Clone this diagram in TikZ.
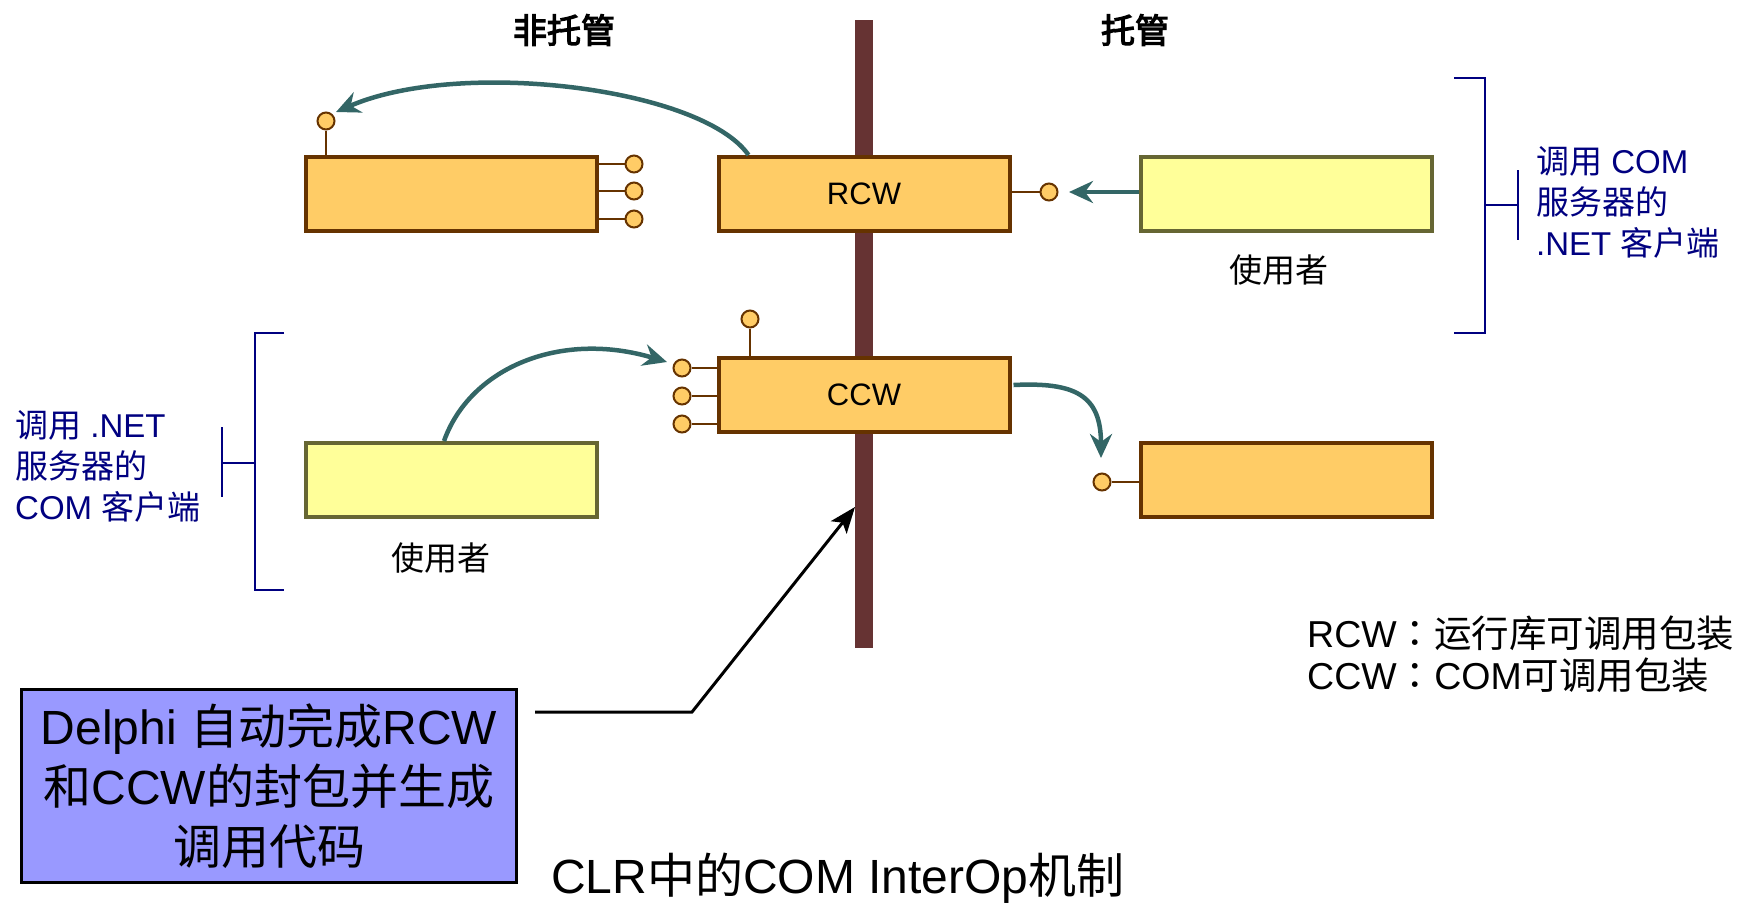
\documentclass[tikz,border=0pt]{standalone}
\usepackage{fontspec}
\setmainfont{Liberation Sans}
\newfontfamily\zh{Noto Sans CJK SC}
\newfontfamily\zhtc{Noto Sans CJK TC}
\newfontfamily\zhb[FakeBold=3.5]{Noto Sans CJK SC}
\usetikzlibrary{arrows.meta,shapes.geometric,calc}
\newcommand{\Z}[1]{{\zh #1}}
\newcommand{\colonc}{{\zhtc ：}}
\definecolor{orangec}{HTML}{FFCC66}
\definecolor{brownc}{HTML}{663300}
\definecolor{yellowc}{HTML}{FFFF99}
\definecolor{olivec}{HTML}{666633}
\definecolor{barc}{HTML}{663333}
\definecolor{tealc}{HTML}{336666}
\definecolor{navyc}{HTML}{000080}
\definecolor{bluec}{HTML}{9999FF}
\tikzset{
  orangebox/.style={draw=brownc, fill=orangec, line width=4pt, minimum width=291pt, minimum height=74pt, inner sep=0pt, font=\fontsize{31}{34}\selectfont},
  yellowbox/.style={draw=olivec, fill=yellowc, line width=4pt, minimum width=291pt, minimum height=74pt, inner sep=0pt},
  pin/.style={circle, draw=brownc, fill=orangec, line width=2pt, minimum size=17pt, inner sep=0pt},
  stem/.style={draw=brownc, line width=2pt},
  tealarrow/.style={draw=tealc, line width=4.5pt, -{Stealth[length=24pt,width=22pt,inset=8pt]}},
  bracketline/.style={draw=navyc, line width=2.5pt},
  smalllabel/.style={font=\fontsize{33}{41}\selectfont, inner sep=0pt},
  navylabel/.style={font=\fontsize{33}{41}\selectfont, text=navyc, align=left, inner sep=0pt, anchor=west},
  headlabel/.style={font=\fontsize{34}{36}\zhb, inner sep=0pt},
  bluebox/.style={draw=black, fill=bluec, line width=3pt, minimum width=495pt, minimum height=193pt, align=center, inner sep=0pt, font=\fontsize{48}{60}\selectfont},
  blackarrow/.style={draw=black, line width=3pt, -{Stealth[length=26pt,width=20pt,inset=6pt]}},
  biglabel/.style={font=\fontsize{48}{55}\selectfont, inner sep=0pt, anchor=west},
  legendlabel/.style={font=\fontsize{37.5}{42}\selectfont, align=left, inner sep=0pt, anchor=west}
}
\begin{document}
\begin{tikzpicture}[x=1pt,y=-1pt]
\useasboundingbox (0,0) rectangle (1740,903);
% central bar
\node[fill=barc, minimum width=18pt, minimum height=628pt, inner sep=0pt] (bar) at (864,334) {};
% headings
\node[headlabel] (unman) at (564,30) {非托管};
\node[headlabel] (man) at (1135,30) {托管};
% boxes
\node[orangebox] (A) at (451.5,194) {};
\node[orangebox] (rcw) at (864,194) {RCW};
\node[yellowbox] (B) at (1286.5,194) {};
\node[orangebox] (ccw) at (864,395) {CCW};
\node[yellowbox] (C) at (451.5,480) {};
\node[orangebox] (D) at (1286.5,480) {};
% user labels
\node[smalllabel] (userB) at (1279,270) {\Z{使用者}};
\node[smalllabel] (userC) at (441,558) {\Z{使用者}};
% pins on A
\node[pin] (pA0) at (326,121) {};
\draw[stem] (pA0) -- (pA0 |- A.north);
\node[pin] (pA1) at (634,164) {};
\node[pin] (pA2) at (634,191) {};
\node[pin] (pA3) at (634,219) {};
\foreach \p in {pA1,pA2,pA3} \draw[stem] (\p) -- (\p -| A.east);
% pin on RCW
\node[pin] (pR) at (1049,192) {};
\draw[stem] (pR) -- (pR -| rcw.east);
% pins on CCW
\node[pin] (pC0) at (750,319) {};
\draw[stem] (pC0) -- (pC0 |- ccw.north);
\node[pin] (pC1) at (682,368) {};
\node[pin] (pC2) at (682,396) {};
\node[pin] (pC3) at (682,424) {};
\foreach \p in {pC1,pC2,pC3} \draw[stem] (\p) -- (\p -| ccw.west);
% pin on D
\node[pin] (pD) at (1102,482) {};
\draw[stem] (pD) -- (pD -| D.west);
% teal arrows
\coordinate (r0) at ($(rcw.north west)+(32,0)$);
\coordinate (r1) at (336,112);
\draw[tealarrow] (r0) .. controls (702,88) and (460,58) .. (r1);
\coordinate (b1) at (1069,192);
\draw[tealarrow] (B.west |- b1) -- (b1);
\coordinate (c0) at ($(C.north west)+(140,0)$);
\coordinate (c1) at (667,362);
\draw[tealarrow] (c0) .. controls (470,368) and (560,330) .. (c1);
\coordinate (d0) at ($(ccw.east)+(2,-10)$);
\coordinate (d1) at (1101,458);
\draw[tealarrow] (d0) .. controls (1075,382) and (1101,395) .. (d1);
% brackets
\coordinate (rb1) at (1454,78);
\coordinate (rb2) at (1485,78);
\coordinate (rb3) at (1485,333);
\coordinate (rb4) at (1454,333);
\draw[bracketline] (rb1) -- (rb2) -- (rb3) -- (rb4);
\coordinate (rt0) at (1485,205);
\coordinate (rt1) at (1518,205);
\draw[bracketline] (rt0) -- (rt1);
\draw[bracketline] ($(rt1)+(0,-35)$) -- ($(rt1)+(0,35)$);
\node[navylabel] (rlab) at (1536,202) {\Z{调用} COM\\\Z{服务器的}\\.NET \Z{客户端}};
\coordinate (lb1) at (284,333);
\coordinate (lb2) at (255,333);
\coordinate (lb3) at (255,590);
\coordinate (lb4) at (284,590);
\draw[bracketline] (lb1) -- (lb2) -- (lb3) -- (lb4);
\coordinate (lt0) at (255,463);
\coordinate (lt1) at (222,463);
\draw[bracketline] (lt0) -- (lt1);
\draw[bracketline] ($(lt1)+(0,-36)$) -- ($(lt1)+(0,34)$);
\node[navylabel] (llab) at (15,466) {\Z{调用} .NET\\\Z{服务器的}\\COM \Z{客户端}};
% note box
\node[bluebox] (note) at (269,786) {Delphi \Z{自动完成}RCW\\\Z{和}CCW\Z{的封包并生成}\\\Z{调用代码}};
\coordinate (n0) at (535,712);
\coordinate (n1) at (692,712);
\coordinate (n2) at (855,507);
\draw[blackarrow] (n0) -- (n1) -- (n2);
% caption
\node[biglabel] (cap) at (551,878) {CLR\Z{中的}COM InterOp\Z{机制}};
% legend
\node[legendlabel] (leg) at (1307,654) {RCW\colonc\Z{运行库可调用包装}\\CCW\colonc COM\Z{可调用包装}};
\end{tikzpicture}
\end{document}
